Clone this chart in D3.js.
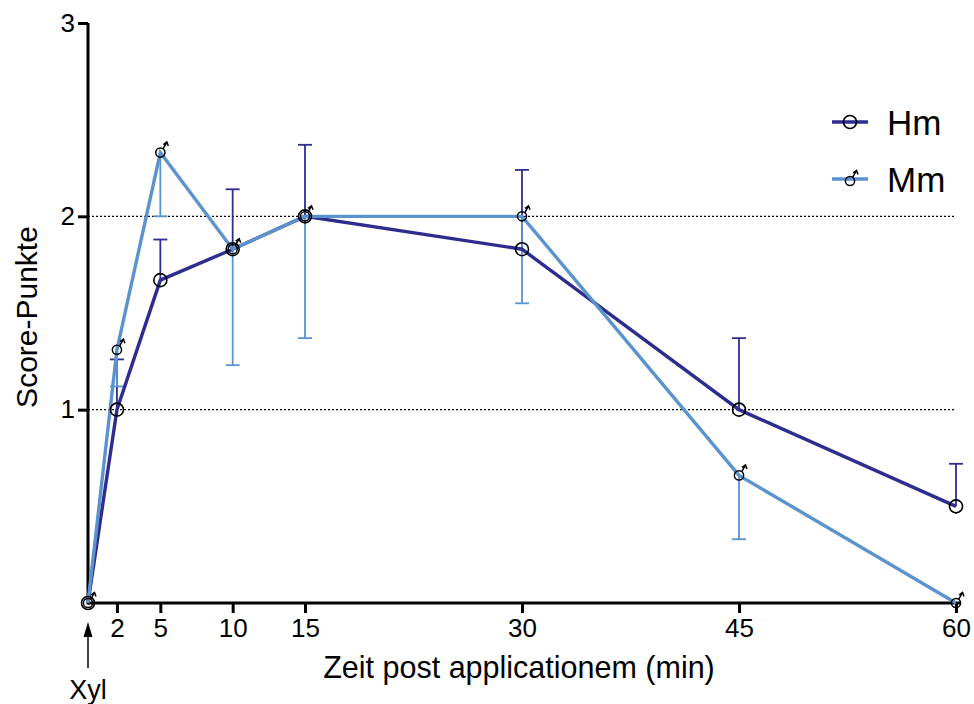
<!DOCTYPE html>
<html>
<head>
<meta charset="utf-8">
<script src="https://cdn.jsdelivr.net/npm/d3@7"></script>
<style>
  body { margin: 0; background: #fff; }
  svg { font-family: "Liberation Sans", Arial, sans-serif; }
</style>
</head>
<body>
<svg width="974" height="704"></svg>
<script>
const svg = d3.select('svg')

// data
const times = [0, 2, 5, 10, 15, 30, 45, 60]
const hmValues = [0, 1.0, 1.67, 1.83, 2.0, 1.83, 1.0, 0.5]
const hmUpper = [0, 1.26, 1.88, 2.14, 2.37, 2.24, 1.37, 0.72]
const mmValues = [0, 1.31, 2.33, 1.83, 2.0, 2.0, 0.66, 0]
const mmLower = [0, 1.12, 2.0, 1.23, 1.37, 1.55, 0.33, 0]
const xTicks = [2, 5, 10, 15, 30, 45, 60]
const yTicks = [1, 2, 3]
const gridLines = [1, 2]

const hmColor = '#2e2d8f'
const mmColor = '#5b93cf'
const font = 'Liberation Sans, Arial, sans-serif'

const x = d3.scaleLinear().domain([0, 60]).range([88, 956])
const y = d3.scaleLinear().domain([0, 3]).range([603, 23])

// dotted reference lines
svg.append('g').selectAll('line').data(gridLines).enter().append('line')
  .attr('x1', x(0)).attr('x2', x(60))
  .attr('y1', d => y(d)).attr('y2', d => y(d))
  .attr('stroke', '#000').attr('stroke-width', 1.2).attr('stroke-dasharray', '2,2')

// axes
const xAxis = svg.append('g').attr('transform', `translate(0,${y(0)})`)
  .call(d3.axisBottom(x).tickValues(xTicks).tickFormat(d3.format('d')).tickSize(10).tickPadding(6).tickSizeOuter(0))
xAxis.attr('font-size', 26).attr('font-family', font)
xAxis.select('.domain').attr('stroke-width', 3).attr('d', `M${x(0)},0H${x(60) + 4}`)
xAxis.selectAll('.tick line').attr('stroke-width', 3)

const yAxis = svg.append('g').attr('transform', `translate(${x(0)},0)`)
  .call(d3.axisLeft(y).tickValues(yTicks).tickFormat(d3.format('d')).tickSize(10).tickPadding(3).tickSizeOuter(0))
yAxis.attr('font-size', 26).attr('font-family', font)
yAxis.select('.domain').attr('stroke-width', 3).attr('d', `M0,${y(0) + 1.5}V${y(3)}`)
yAxis.selectAll('.tick line').attr('stroke-width', 3)

// axis titles
svg.append('text').attr('x', 519).attr('y', 678).attr('text-anchor', 'middle')
  .attr('font-size', 30.5).text('Zeit post applicationem (min)')
svg.append('text').attr('transform', 'translate(37,317) rotate(-90)').attr('text-anchor', 'middle')
  .attr('font-size', 30).text('Score-Punkte')

// Xyl arrow
svg.append('line').attr('x1', x(0)).attr('x2', x(0)).attr('y1', 668).attr('y2', 630)
  .attr('stroke', '#000').attr('stroke-width', 1.5)
svg.append('path').attr('d', `M${x(0) - 4.5},${637}L${x(0)},${622}L${x(0) + 4.5},${637}Z`).attr('fill', '#000')
svg.append('text').attr('x', x(0)).attr('y', 699).attr('text-anchor', 'middle')
  .attr('font-size', 27).text('Xyl')

// error bars
function errorBars(vals, ends, color) {
  const g = svg.append('g').attr('stroke', color).attr('stroke-width', 1.8)
  times.forEach((t, i) => {
    if (ends[i] === vals[i]) return
    g.append('line').attr('x1', x(t)).attr('x2', x(t)).attr('y1', y(vals[i])).attr('y2', y(ends[i]))
    g.append('line').attr('x1', x(t) - 7).attr('x2', x(t) + 7).attr('y1', y(ends[i])).attr('y2', y(ends[i]))
  })
}
errorBars(hmValues, hmUpper, hmColor)
errorBars(mmValues, mmLower, mmColor)

const line = d3.line().x((d, i) => x(times[i])).y(d => y(d))
svg.append('path').datum(hmValues).attr('d', line)
  .attr('fill', 'none').attr('stroke', hmColor).attr('stroke-width', 3.4)
svg.append('path').datum(mmValues).attr('d', line)
  .attr('fill', 'none').attr('stroke', mmColor).attr('stroke-width', 3.4)

// markers
function circleMarker(g, cx, cy) {
  g.append('circle').attr('cx', cx).attr('cy', cy).attr('r', 6.5)
    .attr('fill', 'none').attr('stroke', '#000').attr('stroke-width', 1.6)
}
function maleMarker(g, cx, cy) {
  g.append('circle').attr('cx', cx).attr('cy', cy).attr('r', 4.6)
    .attr('fill', 'none').attr('stroke', '#000').attr('stroke-width', 1.5)
  g.append('path').attr('d', `M${cx + 2.8},${cy - 3.8}L${cx + 6.5},${cy - 10.5}M${cx + 3},${cy - 8}L${cx + 6.5},${cy - 10.5}L${cx + 8},${cy - 6.5}`)
    .attr('fill', 'none').attr('stroke', '#000').attr('stroke-width', 1.5)
}
const hmMarks = svg.append('g')
hmValues.forEach((v, i) => circleMarker(hmMarks, x(times[i]), y(v)))
const mmMarks = svg.append('g')
mmValues.forEach((v, i) => maleMarker(mmMarks, x(times[i]), y(v)))

// legend
const legend = svg.append('g')
legend.append('line').attr('x1', 832).attr('x2', 868).attr('y1', 122).attr('y2', 122)
  .attr('stroke', hmColor).attr('stroke-width', 3.4)
circleMarker(legend, 850, 122)
legend.append('text').attr('x', 887).attr('y', 135).attr('font-size', 35).text('Hm')
legend.append('line').attr('x1', 832).attr('x2', 868).attr('y1', 179).attr('y2', 179)
  .attr('stroke', mmColor).attr('stroke-width', 3.4)
maleMarker(legend, 850, 181)
legend.append('text').attr('x', 887).attr('y', 192).attr('font-size', 35).text('Mm')
</script>
</body>
</html>
